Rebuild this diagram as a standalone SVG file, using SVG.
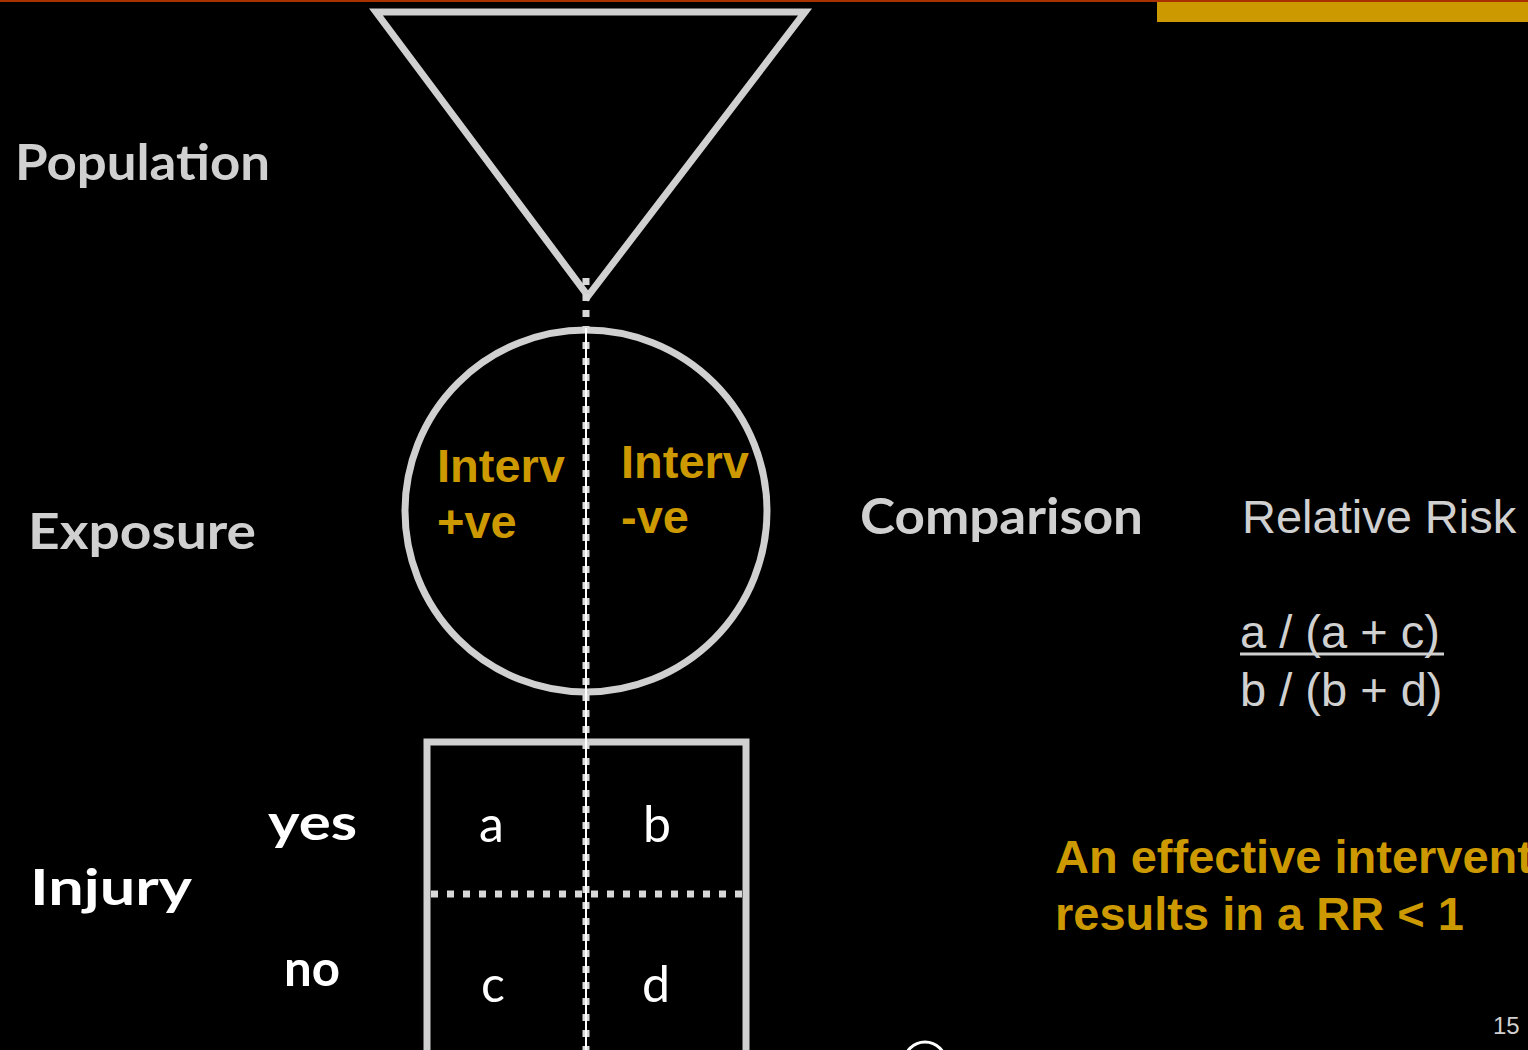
<svg xmlns="http://www.w3.org/2000/svg" width="1528" height="1050" viewBox="0 0 1528 1050">
  <style>
    .shape { fill: none; stroke: #d0d0d0; stroke-width: 7; }
    .hand { font-family: "Lato", "Open Sans", sans-serif; font-weight: bold; }
    .label { fill: #d0d0d0; font-size: 50px; }
    .white { fill: #ffffff; }
    .cell { font-family: "Lato", "Open Sans", sans-serif; fill: #ffffff; font-size: 50px; }
    .gold { font-family: "Liberation Sans", Arial, sans-serif; font-weight: bold; fill: #cc9900; font-size: 47px; }
    .plain { font-family: "Liberation Sans", Arial, sans-serif; fill: #d0d0d0; font-size: 47px; }
    .dots { stroke: #d8d8d8; stroke-width: 7; stroke-dasharray: 7 9; fill: none; }
  </style>
  <rect width="1528" height="1050" fill="#000000"/>

  <!-- header bars -->
  <rect x="0" y="0" width="1528" height="2" fill="#a83200"/>
  <rect x="1157" y="2" width="371" height="20" fill="#cc9900"/>

  <!-- population funnel -->
  <g id="population">
    <polygon class="shape" points="376,12 805,12 588,296"/>
    <text class="hand label" x="15" y="180" textLength="255" lengthAdjust="spacingAndGlyphs">Population</text>
  </g>

  <!-- exposure circle -->
  <g id="exposure">
    <circle class="shape" cx="586" cy="511" r="181" stroke-width="6"/>
    <text class="hand label" x="28" y="549" textLength="228" lengthAdjust="spacingAndGlyphs">Exposure</text>
    <text class="gold" x="437" y="482">Interv</text>
    <text class="gold" x="437" y="538">+ve</text>
    <text class="gold" x="621" y="478">Interv</text>
    <text class="gold" x="621" y="533">-ve</text>
  </g>

  <!-- injury table -->
  <g id="injury">
    <rect class="shape" x="427" y="742" width="319" height="320" stroke-width="6"/>
    <text class="hand white" x="30" y="905" font-size="50" textLength="162" lengthAdjust="spacingAndGlyphs">Injury</text>
    <text class="hand white" x="268" y="840" font-size="50" textLength="89" lengthAdjust="spacingAndGlyphs">yes</text>
    <text class="hand white" x="284" y="986" font-size="50" textLength="56" lengthAdjust="spacingAndGlyphs">no</text>
    <text class="cell" x="479" y="842">a</text>
    <text class="cell" x="643" y="842">b</text>
    <text class="cell" x="481" y="1002">c</text>
    <text class="cell" x="642" y="1002">d</text>
  </g>

  <!-- dividing lines -->
  <g id="connectors">
    <line class="dots" x1="586" y1="278" x2="586" y2="1050"/>
    <line x1="586" y1="328" x2="586" y2="1050" stroke="#ffffff" stroke-width="2"/>
    <line class="dots" x1="431" y1="894" x2="742" y2="894"/>
  </g>

  <!-- comparison -->
  <g id="comparison">
    <text class="hand label" x="860" y="534" textLength="283" lengthAdjust="spacingAndGlyphs">Comparison</text>
    <text class="plain" x="1242" y="533">Relative Risk</text>
    <text class="plain" x="1240" y="648">a / (a + c)</text>
    <line x1="1240" y1="654" x2="1444" y2="654" stroke="#d0d0d0" stroke-width="3"/>
    <text class="plain" x="1240" y="706">b / (b + d)</text>
  </g>

  <g id="conclusion">
    <text class="gold" x="1055" y="873">An effective intervention</text>
    <text class="gold" x="1055" y="930">results in a RR &lt; 1</text>
  </g>

  <circle cx="925" cy="1063" r="21" fill="none" stroke="#ffffff" stroke-width="3"/>
  <text x="1493" y="1034" font-family="Liberation Sans, Arial, sans-serif" font-size="24" fill="#d0d0d0">15</text>
</svg>
